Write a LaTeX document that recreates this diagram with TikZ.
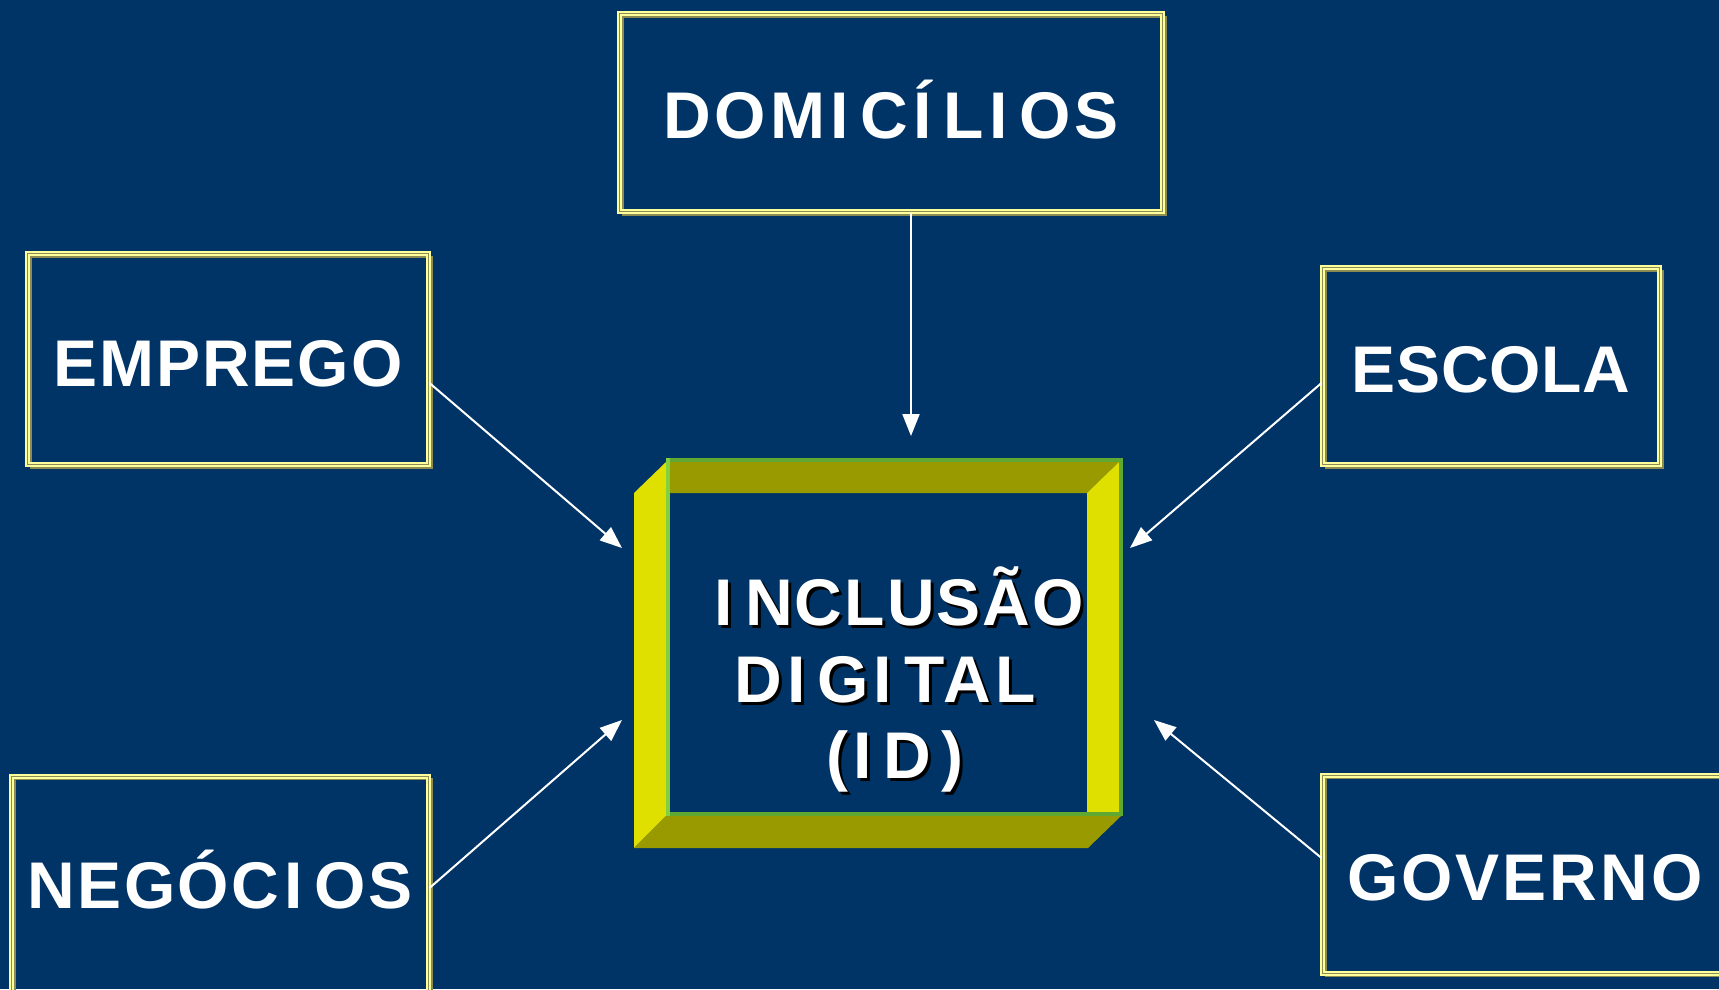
\documentclass[tikz,border=0pt]{standalone}
\usepackage{fontspec}
\setmainfont{Liberation Sans}
\usetikzlibrary{arrows.meta}
\definecolor{bg}{HTML}{003366}
\definecolor{ylw}{HTML}{E0E000}
\definecolor{olv}{HTML}{999900}
\definecolor{grn}{HTML}{5FA832}
\definecolor{lgrn}{HTML}{80D040}
\definecolor{pale}{HTML}{FFFF99}
\definecolor{midln}{HTML}{8C8C5A}
\definecolor{shd}{HTML}{8C8C52}
\newcommand{\ls}[1]{\addfontfeature{LetterSpace=#1}}
\newcommand{\wideI}[1]{\kern5pt#1\kern12pt}
\begin{document}
\begin{tikzpicture}[x=1pt,y=-1pt,
  box/.style={draw=pale, line width=2pt, double=midln, double distance=1pt,
    inner sep=0pt, text=white, font=\fontsize{66}{70}\selectfont\bfseries,
    text height=52pt, text depth=0pt,
    preaction={draw=shd, line width=2pt, double=none, transform canvas={xshift=3pt,yshift=-3pt}}},
  conn/.style={white, line width=2pt, -{Triangle[length=22pt,width=17pt]}},
  idtxt/.style={anchor=base, inner sep=0pt, text=white, font=\fontsize{66}{77}\selectfont\bfseries},
  idshd/.style={anchor=base, inner sep=0pt, text=black, font=\fontsize{66}{77}\selectfont\bfseries},
]
\fill[bg] (0,0) rectangle (1719,989);
\useasboundingbox (0,0) rectangle (1719,989);
\clip (0,0) rectangle (1719,989);

% boxes
\node[box, minimum width=543pt, minimum height=198pt, text height=51pt] (dom) at (891,112.5) {\ls{6.4}DOM\wideI{I}C\wideI{Í}L\wideI{I}OS};
\node[box, minimum width=401pt, minimum height=211pt, text height=54pt] (emp) at (228,359) {\ls{3}EMPREGO};
\node[box, minimum width=337pt, minimum height=197pt] (esc) at (1491,366) {\ls{1}ESCOLA};
\node[box, minimum width=417pt, minimum height=220pt, text height=44pt] (neg) at (220,886) {\ls{3.7}NEGÓC\wideI{I}OS};
\node[box, minimum width=405pt, minimum height=198pt] (gov) at (1525,874) {\ls{4.5}GOVERNO};

% central bevelled frame
\fill[ylw] (634,493) -- (666,462) -- (666,816) -- (634,848) -- cycle;
\fill[olv] (634,848) -- (666,816) -- (1121,816) -- (1088,848) -- cycle;
\fill[olv] (670,462) -- (1119,462) -- (1087,493) -- (670,493) -- cycle;
\fill[ylw] (1087,493) -- (1119,462) -- (1119,812) -- (1087,812) -- cycle;
\draw[grn, line width=4pt] (668,460) -- (1121,460) -- (1121,814) -- (668,814);
\draw[lgrn, line width=4pt] (668,458) -- (668,816);

% central text with shadow
\node[idshd] (s1) at (900,628) {\ls{3.2}\wideI{I}NCLUSÃO};
\node[idtxt] (l1) at (897,625) {\ls{3.2}\wideI{I}NCLUSÃO};
\node[idshd] (s2) at (888,705) {\ls{6}D\wideI{I}G\wideI{I}TAL};
\node[idtxt] (l2) at (885,702) {\ls{6}D\wideI{I}G\wideI{I}TAL};
\node[idshd] (s3) at (898,781) {\ls{16}(\wideI{I}D)};
\node[idtxt] (l3) at (895,778) {\ls{16}(\wideI{I}D)};

% arrow tips
\coordinate (tD) at (911,436);
\coordinate (tE) at (622,548);
\coordinate (tS) at (1130,548);
\coordinate (tN) at (622,720);
\coordinate (tG) at (1154,720);

\draw[conn] ([xshift=20pt]dom.south) -- (tD);
\draw[conn] ([yshift=-24pt]emp.east) -- (tE);
\draw[conn] ([yshift=-17pt]esc.west) -- (tS);
\draw[conn] ([yshift=-2pt]neg.east) -- (tN);
\draw[conn] ([yshift=16pt]gov.west) -- (tG);
\end{tikzpicture}
\end{document}
